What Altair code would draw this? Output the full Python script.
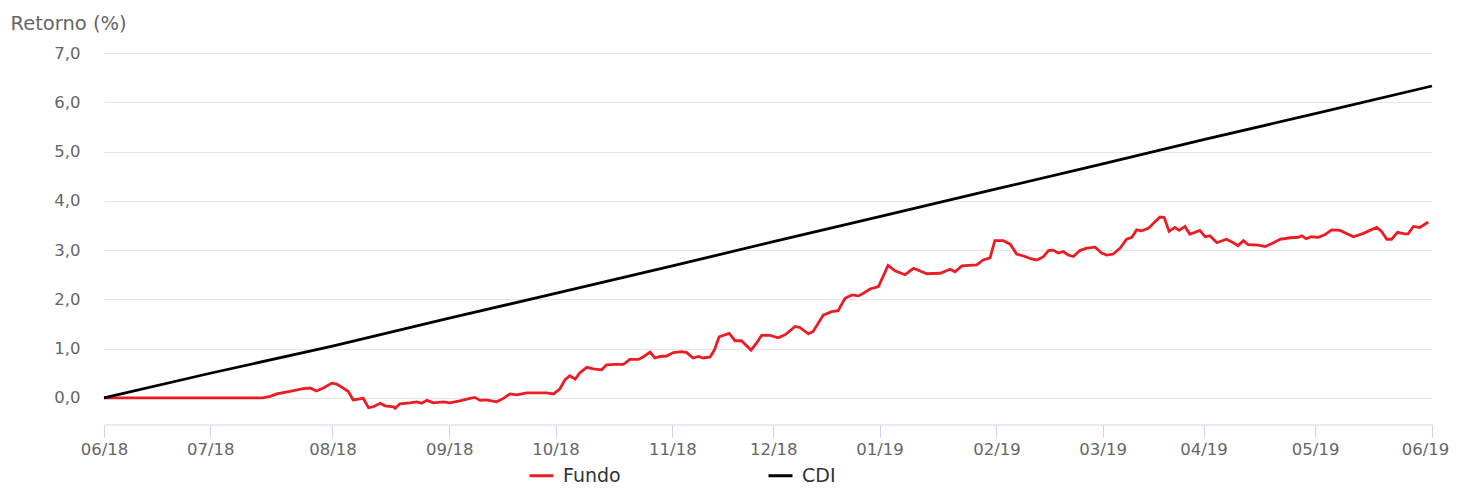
import altair as alt
import pandas as pd

# x = trading-day index (the original axis is spaced by trading days)
tick_days = [0, 20, 43, 65, 85, 107, 126, 146, 168, 188, 207, 228, 250]
tick_labels = ["06/18", "07/18", "08/18", "09/18", "10/18", "11/18", "12/18",
               "01/19", "02/19", "03/19", "04/19", "05/19", "06/19"]

cdi_day = tick_days
cdi_ret = [0.00, 0.50, 1.05, 1.62, 2.12, 2.68, 3.17, 3.68, 4.24, 4.75, 5.24, 5.77, 6.33]

fundo_day = [0, 29.9, 31.3, 32.5, 35.0, 37.5, 38.8, 40.0, 41.3, 42.9, 43.8, 45.0, 46.0, 46.9,
             48.8, 49.8, 50.7, 52.0, 52.9, 54.5, 54.8, 55.7, 57.6, 58.9, 59.8, 60.8, 62.0,
             63.9, 65.1, 67.0, 68.9, 69.8, 70.8, 72.0, 73.9, 75.2, 76.4, 77.7, 79.6, 83.3,
             84.6, 85.8, 86.8, 87.7, 88.7, 89.6, 90.9, 92.1, 93.7, 94.6, 96.2, 97.8, 99.0,
             100.6, 101.5, 102.8, 103.7, 104.7, 105.9, 107.2, 108.8, 109.7, 110.9, 111.9,
             112.8, 114.1, 114.9, 115.8, 117.7, 118.8, 120.0, 121.8, 122.9, 123.8, 125.4,
             126.9, 128.2, 130.1, 131.0, 132.6, 133.5, 135.4, 137.0, 138.2, 139.5, 140.8,
             142.0, 142.9, 144.2, 145.8, 147.6, 148.9, 150.8, 152.4, 154.9, 157.4, 159.3,
             160.2, 161.5, 164.3, 165.5, 166.8, 167.7, 169.3, 170.6, 171.8, 173.4, 174.6,
             175.6, 176.8, 177.8, 178.7, 179.6, 180.6, 181.5, 182.5, 183.7, 185.0, 186.6,
             187.8, 188.8, 190.0, 191.3, 192.5, 193.5, 194.4, 195.3, 196.6, 197.9, 198.8,
             199.6, 200.5, 201.6, 202.4, 203.5, 204.4, 206.3, 207.3, 208.2, 209.5, 211.3,
             212.6, 213.5, 214.5, 215.4, 217.3, 218.6, 219.8, 221.4, 223.3, 224.8, 225.5,
             226.3, 227.3, 228.6, 229.8, 231.1, 232.7, 235.2, 237.1, 238.3, 239.6, 240.5,
             241.5, 242.4, 243.5, 244.9, 245.5, 246.5, 247.7, 249.3]
fundo_ret = [0.00, 0.00, 0.03, 0.08, 0.13, 0.19, 0.20, 0.14, 0.20, 0.30, 0.28, 0.20, 0.13, -0.04,
             -0.01, -0.20, -0.18, -0.11, -0.16, -0.18, -0.21, -0.12, -0.10, -0.08, -0.11, -0.05,
             -0.10, -0.08, -0.10, -0.06, -0.01, 0.01, -0.05, -0.04, -0.08, -0.01, 0.08, 0.06,
             0.10, 0.10, 0.08, 0.18, 0.37, 0.45, 0.38, 0.51, 0.62, 0.59, 0.57, 0.67, 0.68, 0.68,
             0.78, 0.78, 0.83, 0.93, 0.81, 0.84, 0.85, 0.92, 0.94, 0.92, 0.81, 0.84, 0.81, 0.83,
             0.97, 1.24, 1.31, 1.16, 1.16, 0.97, 1.12, 1.27, 1.27, 1.22, 1.28, 1.45, 1.43, 1.30,
             1.35, 1.68, 1.75, 1.77, 2.02, 2.09, 2.07, 2.12, 2.21, 2.26, 2.69, 2.58, 2.50, 2.63,
             2.52, 2.53, 2.61, 2.56, 2.68, 2.70, 2.80, 2.84, 3.19, 3.19, 3.12, 2.92, 2.87, 2.82,
             2.80, 2.86, 2.99, 3.00, 2.94, 2.97, 2.90, 2.87, 2.99, 3.04, 3.06, 2.94, 2.90, 2.92,
             3.04, 3.22, 3.26, 3.41, 3.39, 3.44, 3.58, 3.67, 3.66, 3.38, 3.46, 3.40, 3.48, 3.32,
             3.40, 3.27, 3.29, 3.15, 3.22, 3.15, 3.09, 3.19, 3.11, 3.10, 3.07, 3.13, 3.22, 3.25,
             3.26, 3.29, 3.23, 3.27, 3.26, 3.31, 3.41, 3.40, 3.27, 3.34, 3.40, 3.46, 3.38, 3.22,
             3.22, 3.36, 3.33, 3.33, 3.48, 3.46, 3.57]

y_ticks = [0, 1, 2, 3, 4, 5, 6, 7]
series_names = ["Fundo", "CDI"]
series_colors = ["#ed1c24", "#000000"]

df = pd.concat([
    pd.DataFrame({"dia": fundo_day, "ret": fundo_ret, "serie": "Fundo"}),
    pd.DataFrame({"dia": cdi_day, "ret": cdi_ret, "serie": "CDI"}),
], ignore_index=True)

label_expr = ("[" + ",".join("'%s'" % s for s in tick_labels) + "][indexof(["
              + ",".join(str(d) for d in tick_days) + "], datum.value)]")
last_tick = tick_days[-1]

FONT = "DejaVu Sans"

chart = alt.Chart(df).mark_line(strokeWidth=2.8, interpolate="linear").encode(
    x=alt.X("dia:Q",
            scale=alt.Scale(domain=[0, 250], nice=False, zero=False),
            axis=alt.Axis(values=tick_days, labelExpr=label_expr, title=None, grid=False,
                          domainColor="#ccd6eb", tickColor="#ccd6eb", tickSize=13,
                          labelFontSize=16.5, labelColor="#666666", labelFont=FONT,
                          labelPadding=4, labelFlush=False, labelOverlap=False,
                          labelOffset={"condition": {"test": "datum.value == %d" % last_tick,
                                                     "value": -7}, "value": 0})),
    y=alt.Y("ret:Q",
            scale=alt.Scale(domain=[-0.54, 7.0], nice=False, zero=False),
            axis=alt.Axis(values=y_ticks,
                          labelExpr="replace(format(datum.value, '.1f'), '.', ',')",
                          title="Retorno (%)", titleAngle=0, titleAlign="left",
                          titleBaseline="alphabetic", titleX=-94, titleY=-24,
                          titleFontSize=19.5, titleFontWeight="normal", titleColor="#666666",
                          titleFont=FONT, domain=False, ticks=False, tickSize=0,
                          labelPadding=24, labelFontSize=16.5, labelColor="#666666",
                          labelFont=FONT, gridColor="#e6e6e6", gridWidth=1)),
    color=alt.Color("serie:N",
                    scale=alt.Scale(domain=series_names, range=series_colors),
                    legend=alt.Legend(title=None, orient="none", legendX=424, legendY=409,
                                      direction="horizontal", symbolType="stroke",
                                      symbolStrokeWidth=3, symbolSize=576,
                                      labelFontSize=19, labelColor="#333333", labelFont=FONT,
                                      labelOffset=8, columnPadding=141, padding=0)),
    order=alt.Order("dia:Q"),
).properties(
    width=1328, height=371.5,
    background="#ffffff",
    autosize=alt.AutoSizeParams(type="none"),
    padding={"left": 96, "top": 45, "right": 19, "bottom": 60},
).configure_view(strokeWidth=0)

chart.save("out.html", embed_options={"renderer": "svg", "actions": False})
